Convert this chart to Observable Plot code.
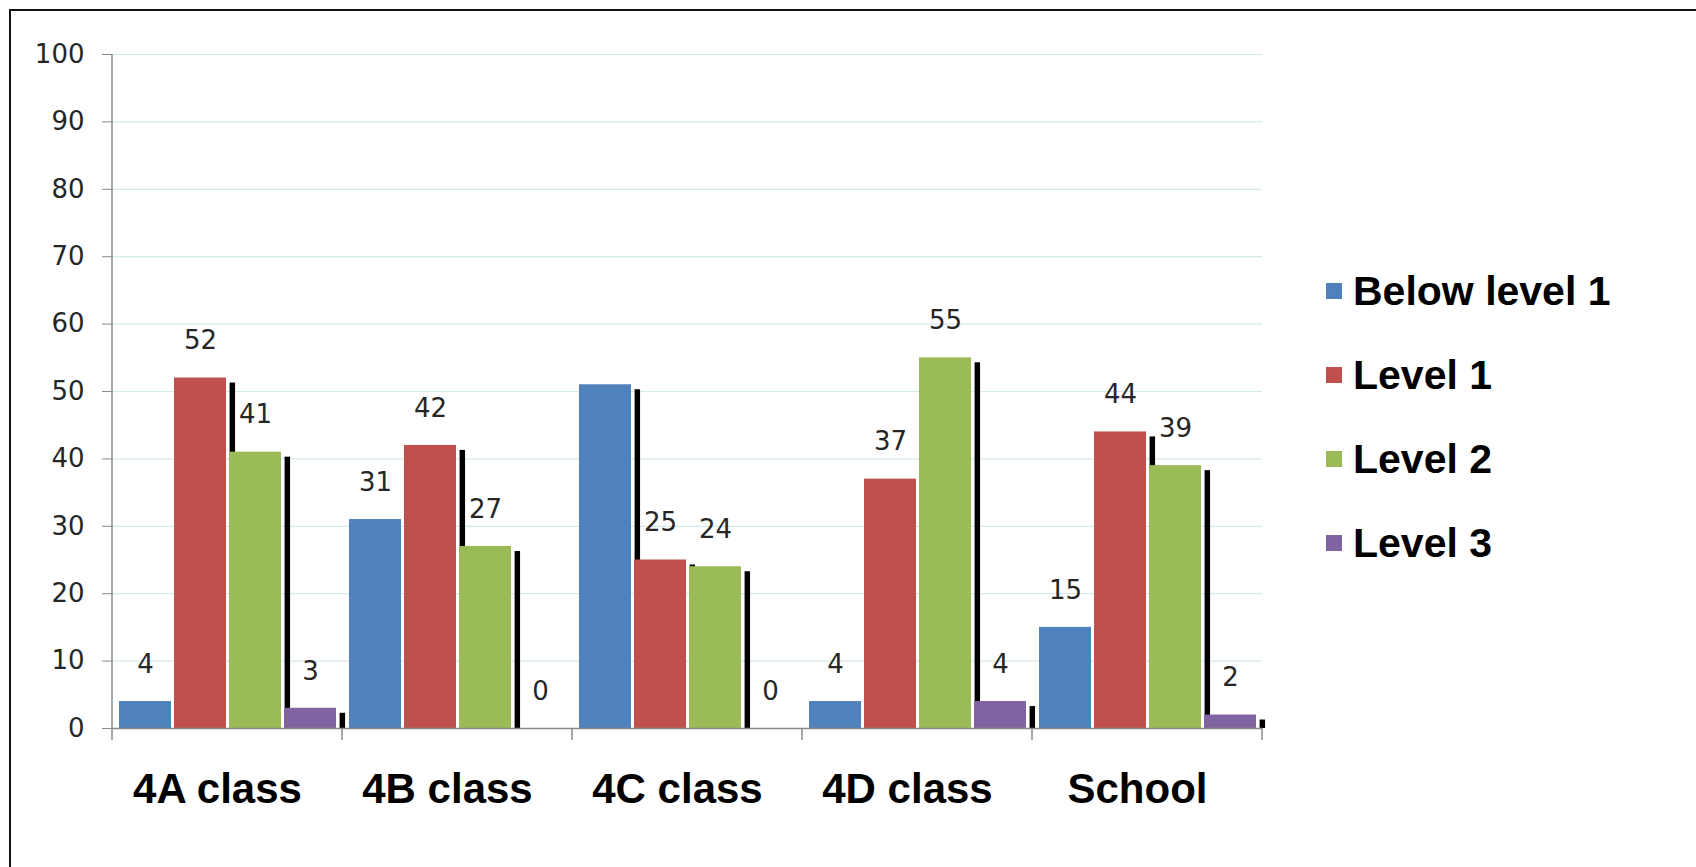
<!DOCTYPE html>
<html>
<head>
<meta charset="utf-8">
<script src="https://cdn.jsdelivr.net/npm/d3@7"></script>
<script src="https://cdn.jsdelivr.net/npm/@observablehq/plot@0.6"></script>
<style>
  html, body { margin: 0; padding: 0; background: #fff; }
  #wrap { position: relative; width: 1696px; height: 867px; overflow: hidden; background: #fff; }
  #chart { position: absolute; left: 0; top: 0; }
  #border { position: absolute; left: 9px; top: 9px; width: 3000px; height: 3000px;
            border-left: 2.5px solid #111; border-top: 2.5px solid #111; box-sizing: border-box; pointer-events: none; }
  #legend { position: absolute; left: 1326px; top: 0; font-family: "Liberation Sans", Arial, sans-serif;
            font-weight: bold; font-size: 41px; color: #000; }
  .item { position: absolute; left: 0; height: 48px; line-height: 48px; display: flex; align-items: center; white-space: nowrap; }
  .sw { width: 16px; height: 16px; margin-right: 11px; flex: none; }
</style>
</head>
<body>
<div id="wrap">
  <div id="chart"></div>
  <div id="legend"></div>
  <div id="border"></div>
</div>
<script>
// ---- data ----
const groups = ["4A class", "4B class", "4C class", "4D class", "School"];
const series = ["Below level 1", "Level 1", "Level 2", "Level 3"];
const belowLevel1 = [4, 31, 51, 4, 15];
const level1 = [52, 42, 25, 37, 44];
const level2 = [41, 27, 24, 55, 39];
const level3 = [3, 0, 0, 4, 2];
const yTicks = [0, 10, 20, 30, 40, 50, 60, 70, 80, 90, 100];
const colors = ["#4f81bd", "#c0504d", "#9bbb59", "#8064a2"];
// label hidden behind a shadow in the original picture
const hiddenLabels = [["4C class", "Below level 1"]];

const seriesValues = [belowLevel1, level1, level2, level3];
const rows = groups.flatMap((g, gi) =>
  series.map((s, si) => ({group: g, series: s, value: seriesValues[si][gi]})));
const isHidden = d => hiddenLabels.some(([g, s]) => g === d.group && s === d.series);

// ---- layout ----
const W = 1696, H = 867, mL = 111, mR = 433, mT = 54, mB = 139;
const pIn = 0.055, pOut = 0.1;
const fxStep = (W - mL - mR) / groups.length;
const step = fxStep / (series.length - pIn + 2 * pOut);
const bw = step * (1 - pIn);

const chart = Plot.plot({
  width: W, height: H,
  marginLeft: mL, marginRight: mR, marginTop: mT, marginBottom: mB,
  style: {fontFamily: "DejaVu Sans, Verdana, sans-serif", background: "transparent", overflow: "visible"},
  fx: {domain: groups, padding: 0, label: null},
  x: {domain: series, paddingInner: pIn, paddingOuter: pOut, axis: null},
  y: {domain: [0, 100], label: null},
  color: {domain: series, range: colors},
  marks: [
    Plot.gridY({ticks: yTicks, stroke: "#d4eaea", strokeOpacity: 1, strokeWidth: 1.2}),
    // drop shadows (drawn first, then partly covered by the next bar)
    Plot.barY(rows.filter(d => d.value > 0), {
      fx: "group", x: "series", y: "value", fill: "#000",
      dx: step, insetRight: bw - 6, insetTop: 5
    }),
    Plot.barY(rows, {fx: "group", x: "series", y: "value", fill: "series"}),
    Plot.ruleY([0], {stroke: "#8a8a8a", strokeWidth: 1.5}),
    Plot.text(rows.filter(d => !isHidden(d)), {
      fx: "group", x: "series", y: "value", text: d => String(d.value),
      dy: -37, lineAnchor: "middle", fontSize: 26, fill: "#262626",
      fontFamily: "DejaVu Sans, Verdana, sans-serif"
    }),
    Plot.axisY({ticks: yTicks, tickSize: 10, tickPadding: 18, fontSize: 26,
      stroke: "#8a8a8a", fill: "#262626", label: null,
      fontFamily: "DejaVu Sans, Verdana, sans-serif"}),
    Plot.axisFx({anchor: "bottom", tickSize: 0, tickPadding: 45, fontSize: 42, fontWeight: "bold",
      fontFamily: "Liberation Sans, Arial, sans-serif", fill: "#000", dx: -10, label: null})
  ]
});

// y axis line and group boundary ticks, positioned from Plot's own scales
const fx = chart.scale("fx"), y = chart.scale("y");
const y0 = y.apply(0), y100 = y.apply(100);
const bounds = groups.map(g => fx.apply(g)).concat([fx.apply(groups[groups.length - 1]) + fx.bandwidth]);
const g = d3.select(chart).append("g").attr("stroke", "#8a8a8a").attr("stroke-width", 1.5);
g.append("line").attr("x1", bounds[0]).attr("x2", bounds[0]).attr("y1", y100).attr("y2", y0);
bounds.forEach(b => g.append("line").attr("x1", b).attr("x2", b).attr("y1", y0).attr("y2", y0 + 12));

document.getElementById("chart").appendChild(chart);

// legend
const legend = document.getElementById("legend");
series.forEach((s, i) => {
  const item = document.createElement("div");
  item.className = "item";
  item.style.top = (267 + i * 84) + "px";
  const sw = document.createElement("span");
  sw.className = "sw";
  sw.style.background = colors[i];
  const t = document.createElement("span");
  t.textContent = s;
  item.appendChild(sw); item.appendChild(t);
  legend.appendChild(item);
});
</script>
</body>
</html>
